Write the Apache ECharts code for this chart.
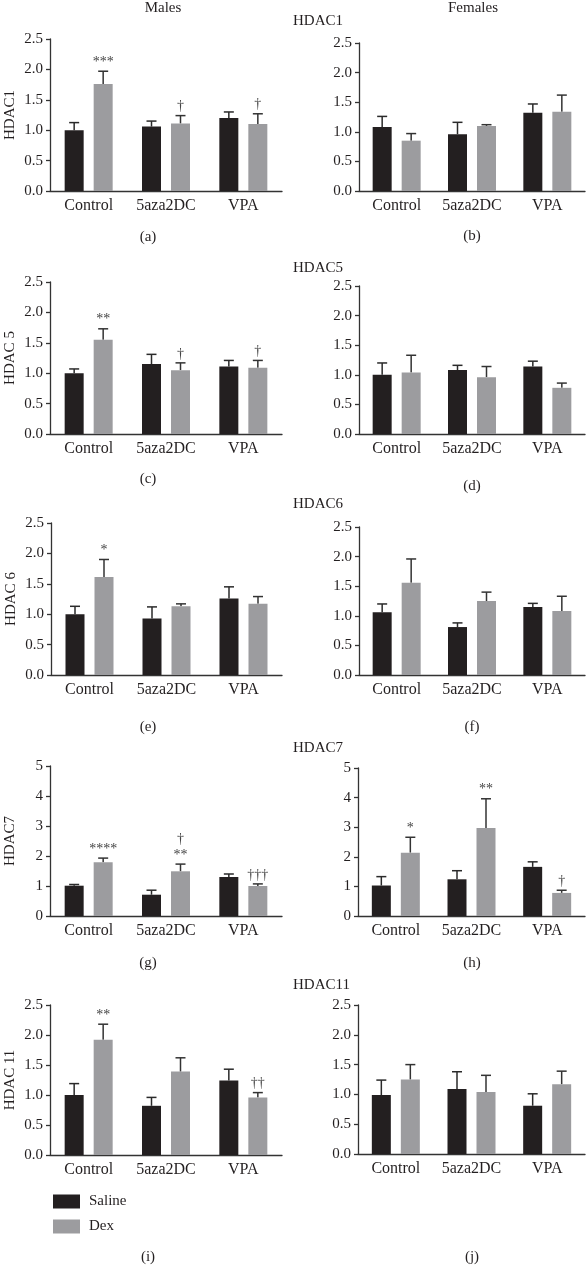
<!DOCTYPE html>
<html>
<head>
<meta charset="utf-8">
<script src="https://cdn.jsdelivr.net/npm/echarts@6/dist/echarts.min.js"></script>
<style>html,body{margin:0;padding:0;background:#fff}#c{width:587px;height:1269px}</style>
</head>
<body>
<div id="c"></div>
<script>
const categories = ['Control', '5aza2DC', 'VPA'];
const groupNames = ['Saline', 'Dex'];
const panelLetters = ['(a)', '(b)', '(c)', '(d)', '(e)', '(f)', '(g)', '(h)', '(i)', '(j)'];
const geneNames = ['HDAC1', 'HDAC5', 'HDAC6', 'HDAC7', 'HDAC11'];
const leftAxisNames = ['HDAC1', 'HDAC 5', 'HDAC 6', 'HDAC7', 'HDAC 11'];

// means and SEM (upper error) per panel
const a_saline = [1.00, 1.06, 1.20], a_salineSem = [0.125, 0.09, 0.10];
const a_dex = [1.76, 1.11, 1.10], a_dexSem = [0.21, 0.13, 0.17];
const a_ann = ['***', '†', '†'];
const b_saline = [1.08, 0.96, 1.32], b_salineSem = [0.18, 0.20, 0.15];
const b_dex = [0.85, 1.10, 1.34], b_dexSem = [0.12, 0.02, 0.28];
const b_ann = ['', '', ''];
const c_saline = [1.00, 1.15, 1.11], c_salineSem = [0.07, 0.16, 0.10];
const c_dex = [1.55, 1.05, 1.09], c_dexSem = [0.18, 0.12, 0.12];
const c_ann = ['**', '†', '†'];
const d_saline = [1.00, 1.08, 1.14], d_salineSem = [0.20, 0.08, 0.09];
const d_dex = [1.04, 0.96, 0.78], d_dexSem = [0.29, 0.18, 0.08];
const d_ann = ['', '', ''];
const e_saline = [1.00, 0.93, 1.26], e_salineSem = [0.13, 0.19, 0.19];
const e_dex = [1.61, 1.13, 1.17], e_dexSem = [0.29, 0.04, 0.12];
const e_ann = ['*', '', ''];
const f_saline = [1.06, 0.81, 1.15], f_salineSem = [0.14, 0.07, 0.06];
const f_dex = [1.56, 1.25, 1.08], f_dexSem = [0.40, 0.15, 0.25];
const f_ann = ['', '', ''];
const g_saline = [1.01, 0.71, 1.30], g_salineSem = [0.04, 0.15, 0.10];
const g_dex = [1.79, 1.49, 1.00], g_dexSem = [0.14, 0.24, 0.07];
const g_ann = ['****', '†\n**', '†††'];
const h_saline = [1.03, 1.24, 1.66], h_salineSem = [0.30, 0.29, 0.17];
const h_dex = [2.14, 2.97, 0.78], h_dexSem = [0.52, 0.99, 0.09];
const h_ann = ['*', '**', '†'];
const i_saline = [1.00, 0.82, 1.24], i_salineSem = [0.19, 0.14, 0.19];
const i_dex = [1.92, 1.39, 0.96], i_dexSem = [0.26, 0.23, 0.08];
const i_ann = ['**', '', '††'];
const j_saline = [0.99, 1.09, 0.81], j_salineSem = [0.25, 0.29, 0.20];
const j_dex = [1.25, 1.04, 1.17], j_dexSem = [0.25, 0.28, 0.22];
const j_ann = ['', '', ''];

const yMaxes = [2.5, 2.5, 2.5, 2.5, 2.5, 2.5, 5, 5, 2.5, 2.5];
const yIntervals = [0.5, 0.5, 0.5, 0.5, 0.5, 0.5, 1, 1, 0.5, 0.5];

const panels = [
  [a_saline, a_salineSem, a_dex, a_dexSem, a_ann],
  [b_saline, b_salineSem, b_dex, b_dexSem, b_ann],
  [c_saline, c_salineSem, c_dex, c_dexSem, c_ann],
  [d_saline, d_salineSem, d_dex, d_dexSem, d_ann],
  [e_saline, e_salineSem, e_dex, e_dexSem, e_ann],
  [f_saline, f_salineSem, f_dex, f_dexSem, f_ann],
  [g_saline, g_salineSem, g_dex, g_dexSem, g_ann],
  [h_saline, h_salineSem, h_dex, h_dexSem, h_ann],
  [i_saline, i_salineSem, i_dex, i_dexSem, i_ann],
  [j_saline, j_salineSem, j_dex, j_dexSem, j_ann]
];

// layout (style, not data)
const FONT = 'Liberation Serif';
const INK = '#231f20';
const GREY = '#9c9c9f';
const AXIS = '#333333';
const gridBoxes = [
  {left: 50, top: 39, width: 232, height: 152},
  {left: 359, top: 43, width: 226, height: 148},
  {left: 50, top: 282, width: 232, height: 152},
  {left: 359, top: 286, width: 226, height: 148},
  {left: 51, top: 523, width: 231, height: 152},
  {left: 359, top: 527, width: 226, height: 148},
  {left: 50, top: 766, width: 232, height: 150},
  {left: 358, top: 768, width: 227, height: 148},
  {left: 50, top: 1005, width: 232, height: 150},
  {left: 358, top: 1005, width: 227, height: 149}
];
const BAR_W = 19, BAR_GAP_PX = 10;
const OFFSET = (BAR_W + BAR_GAP_PX) / 2;

const grid = [], xAxis = [], yAxis = [], series = [];
panels.forEach((p, k) => {
  const isLeft = k % 2 === 0;
  grid.push(Object.assign({containLabel: false, outerBoundsMode: 'none'}, gridBoxes[k]));
  xAxis.push({
    type: 'category', gridIndex: k, data: categories,
    axisLine: {lineStyle: {color: AXIS, width: 1.3}},
    axisTick: {alignWithLabel: true, interval: 0, length: 4, lineStyle: {color: AXIS, width: 1.3}},
    axisLabel: {interval: 0, hideOverlap: false, fontFamily: FONT, fontSize: 16, color: INK, margin: 7},
    splitLine: {show: false}
  });
  const yMax = yMaxes[k], yInt = yIntervals[k];
  yAxis.push({
    type: 'value', gridIndex: k, min: 0, max: yMax, interval: yInt,
    name: isLeft ? leftAxisNames[k / 2] : '',
    nameLocation: 'middle', nameRotate: 90, nameGap: 32,
    nameTextStyle: {fontFamily: FONT, fontSize: 15, color: INK},
    axisLine: {show: true, lineStyle: {color: AXIS, width: 1.3}},
    axisTick: {show: true, length: 4, lineStyle: {color: AXIS, width: 1.3}},
    axisLabel: {fontFamily: FONT, fontSize: 15, color: INK, margin: 7,
      formatter: v => yInt < 1 ? v.toFixed(1) : String(v)},
    splitLine: {show: false}
  });
  const [sal, salSem, dex, dexSem, ann] = p;
  series.push({
    name: groupNames[0], type: 'bar', xAxisIndex: k, yAxisIndex: k,
    data: sal, barWidth: BAR_W, barGap: (BAR_GAP_PX / BAR_W * 100) + '%',
    itemStyle: {color: INK}, z: 3
  });
  series.push({
    name: groupNames[1], type: 'bar', xAxisIndex: k, yAxisIndex: k,
    data: dex, barWidth: BAR_W, barGap: (BAR_GAP_PX / BAR_W * 100) + '%',
    itemStyle: {color: GREY}, z: 3
  });
  const makeErr = (means, sems, off, color, anns) => ({
    type: 'custom', xAxisIndex: k, yAxisIndex: k, z: 2, silent: true,
    data: means.map((m, i) => [i, m, sems[i]]),
    renderItem: (params, api) => {
      const ci = api.value(0), m = api.value(1), s = api.value(2);
      const b = api.coord([ci, m]);
      const t = api.coord([ci, m + s]);
      const x = b[0] + off;
      const children = [
        {type: 'line', shape: {x1: x, y1: b[1], x2: x, y2: t[1]}, style: {stroke: color, lineWidth: 1.5}},
        {type: 'line', shape: {x1: x - 5, y1: t[1], x2: x + 5, y2: t[1]}, style: {stroke: color, lineWidth: 1.5}}
      ];
      const a = anns ? anns[params.dataIndex] : '';
      if (a) {
        children.push({type: 'text', style: {
          text: a, x: x, y: t[1] - 1, align: 'center', verticalAlign: 'bottom',
          fontFamily: FONT, fontSize: 14, fill: '#444', lineHeight: 16
        }});
      }
      return {type: 'group', children};
    }
  });
  series.push(makeErr(sal, salSem, -OFFSET, '#2a2a2a', null));
  series.push(makeErr(dex, dexSem, OFFSET, '#333333', ann));
});

const txt = (text, x, y, align) => ({
  type: 'text', x: x, y: y,
  style: {text, align: align || 'center', verticalAlign: 'middle', fontFamily: FONT, fontSize: 15, fill: INK}
});
const graphic = [
  txt('Males', 163, 8), txt('Females', 473, 8)
];
const geneY = [21, 268, 504, 748, 985];
geneNames.forEach((g, r) => graphic.push(txt(g, 293, geneY[r], 'left')));
const letterY = [237, 236, 479, 486, 727, 727, 963, 963, 1257, 1257];
panelLetters.forEach((l, k) => graphic.push(txt(l, k % 2 === 0 ? 148 : 472, letterY[k])));

const chart = echarts.init(document.getElementById('c'));
chart.setOption({
  animation: false,
  backgroundColor: '#ffffff',
  grid, xAxis, yAxis, series, graphic,
  legend: {
    data: groupNames, orient: 'vertical', left: 53, top: 1194,
    itemWidth: 27, itemHeight: 14, itemGap: 10, icon: 'rect', padding: 0,
    textStyle: {fontFamily: FONT, fontSize: 15, color: INK, padding: [0, 0, 0, 4]}
  }
});
</script>
</body>
</html>
